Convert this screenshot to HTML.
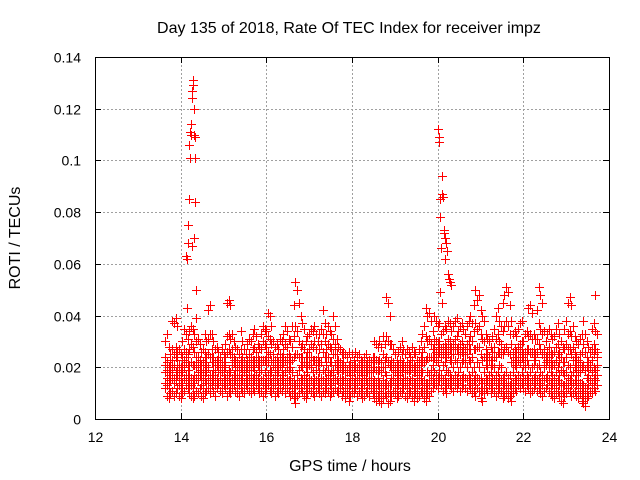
<!DOCTYPE html>
<html><head><meta charset="utf-8"><style>
body{margin:0;background:#fff}
svg{display:block;font-family:"Liberation Sans",sans-serif}
</style></head><body>
<svg id="chart" width="640" height="480" viewBox="0 0 640 480" xmlns="http://www.w3.org/2000/svg">
<rect width="640" height="480" fill="#fff"/>
<text x="349" y="33" font-size="16" text-anchor="middle" fill="#000">Day 135 of 2018, Rate Of TEC Index for receiver impz</text>
<text x="350" y="471" font-size="16" text-anchor="middle" fill="#000">GPS time / hours</text>
<text transform="translate(20,238) rotate(-90)" font-size="16" text-anchor="middle" fill="#000">ROTI / TECUs</text>
<g id="grid"></g>
<g id="marks"></g>
<g id="axes"></g>
</svg>
<script>
const xTicks=[12,14,16,18,20,22,24];
const yTicks=[0,0.02,0.04,0.06,0.08,0.1,0.12,0.14];
const yTickLabels=["0","0.02","0.04","0.06","0.08","0.1","0.12","0.14"];
const tStart=13.64, tStep=0.04;
const rotiLow=[12,9,8,10,11,9,10,12,9,8,10,11,13,12,10,9,8,9,11,10,12,9,8,10,11,
12,10,13,11,9,12,14,11,10,13,12,9,11,10,12,13,11,10,9,12,11,10,13,12,11,
10,12,11,13,12,10,11,9,10,12,13,11,10,12,9,11,10,12,11,13,10,12,11,9,10,
8,6,9,10,12,11,9,8,10,12,11,10,9,11,12,10,9,11,10,12,11,9,10,11,12,
11,10,12,9,11,8,10,7,9,11,10,12,9,11,10,8,9,11,10,9,12,10,8,7,9,
7,6,8,10,9,6,7,9,11,10,8,9,11,10,12,9,8,10,11,9,7,10,8,9,11,
10,8,7,10,9,11,12,14,13,12,15,13,11,12,10,14,13,12,11,13,12,14,11,12,13,
12,11,13,12,10,11,9,12,11,8,7,10,12,11,13,10,12,11,9,10,12,11,8,9,10,
8,9,7,10,12,11,13,12,14,12,11,13,12,10,11,12,13,11,12,10,9,11,12,13,11,
10,9,8,10,11,9,7,6,9,10,12,11,9,10,11,9,8,10,7,6,5,8,9,11,10,
12,11,13];
const rotiLow2=[14,13,12,15,16,14,15,17,13,12,14,16,17,15,14,13,12,14,16,15,17,13,12,15,14,
16,14,17,15,13,16,18,15,14,17,16,13,15,14,16,17,15,14,13,16,15,14,17,16,15,
14,16,15,17,16,14,15,13,14,16,17,15,14,16,13,15,14,16,15,17,14,16,15,13,14,
12,10,13,14,16,15,13,12,14,16,15,14,13,15,16,14,13,15,14,16,15,13,14,15,16,
15,14,16,13,15,12,14,11,13,15,14,16,13,15,14,12,13,15,14,13,16,14,12,11,13,
11,10,12,14,13,10,11,13,15,14,12,13,15,14,16,13,12,14,15,13,11,14,12,13,15,
14,12,11,14,13,15,16,18,17,16,19,17,15,16,14,18,17,16,15,17,16,18,15,16,17,
16,15,17,16,14,15,13,16,15,12,11,14,16,15,17,14,16,15,13,14,16,15,12,13,14,
12,13,11,14,16,15,17,16,18,16,15,17,16,14,15,16,17,15,16,14,13,15,16,17,15,
14,13,12,14,15,13,11,10,13,14,16,15,13,14,15,13,12,14,11,10,9,12,13,15,14,
16,15,17];
const rotiMid=[18,16,15,17,19,16,18,20,17,15,18,20,22,19,17,16,15,17,20,18,21,17,16,19,18,
20,17,22,19,16,21,24,19,18,22,20,17,19,18,21,22,19,17,16,20,19,18,21,20,19,
17,20,19,22,21,18,19,16,18,21,22,19,18,21,17,19,18,21,19,22,18,20,19,16,18,
15,13,17,19,21,20,17,16,18,21,20,18,16,19,21,18,16,19,18,21,19,17,18,19,21,
19,18,20,16,19,15,18,14,16,19,18,21,16,19,18,15,16,19,18,16,20,18,15,14,16,
14,13,15,18,17,13,14,16,19,18,15,16,19,18,20,16,15,18,19,16,14,18,15,16,19,
18,15,14,18,17,19,21,24,23,22,26,24,21,22,19,25,23,22,20,23,22,25,20,22,23,
22,20,23,22,18,20,17,22,20,16,14,18,21,20,23,18,21,20,17,18,21,20,16,17,18,
16,17,14,18,21,20,23,22,24,21,20,23,21,18,20,21,23,20,21,18,17,20,21,23,20,
18,17,16,18,20,17,14,13,17,18,21,20,17,18,20,17,15,18,14,13,12,16,17,20,18,
20,19,21];
const rotiMid2=[21,19,18,20,23,21,24,23,19,18,21,23,24,22,21,22,21,21,24,21,22,19,19,22,21,
25,24,24,22,19,22,22,20,20,21,22,26,27,25,24,23,21,20,19,23,22,20,19,22,22,
21,23,23,24,22,21,23,23,23,24,26,25,23,23,20,21,20,23,21,24,23,24,22,20,23,
24,25,25,24,24,24,22,20,22,24,24,23,23,23,22,22,22,26,24,24,24,22,22,25,25,
22,21,21,19,20,18,19,18,17,19,18,20,18,20,18,17,18,20,18,18,19,19,20,19,19,
19,18,20,20,24,22,21,20,21,19,17,19,21,21,21,18,19,19,19,20,18,19,17,19,21,
22,22,23,24,24,24,24,27,26,25,28,26,25,26,24,28,27,25,25,27,27,27,25,26,26,
25,25,27,27,24,27,27,28,28,25,23,24,24,23,24,21,24,24,24,26,26,25,25,27,28,
26,25,22,22,24,23,26,26,27,23,23,25,27,26,26,24,24,26,29,27,25,24,22,25,24,
22,21,21,23,25,22,19,18,22,24,27,27,25,23,23,21,19,22,20,21,19,20,20,21,23,
25,27,24];
const rotiUpper=[24,22,20,23,27,25,28,26,21,20,24,27,26,25,27,29,28,26,30,24,23,21,22,26,24,
31,33,27,24,22,23,21,20,22,21,24,32,33,31,27,24,23,22,21,27,24,22,21,23,25,
24,27,28,26,24,23,27,30,29,28,32,31,29,25,23,24,22,25,24,27,29,28,25,24,28,
32,36,34,30,28,29,27,24,26,27,29,28,30,27,24,27,29,33,30,27,29,28,27,31,29,
25,23,22,21,22,20,19,21,18,20,19,21,20,21,19,18,20,21,18,19,18,20,24,23,22,
23,22,25,23,32,30,29,23,22,20,19,21,23,25,22,20,22,21,20,23,21,20,19,22,24,
26,28,32,30,31,29,27,31,30,29,30,27,28,29,28,31,30,28,29,31,32,28,29,30,28,
27,29,30,32,30,34,37,35,36,33,31,30,27,25,24,23,26,28,31,33,30,29,34,36,38,
36,33,29,26,27,26,28,29,30,25,26,27,32,33,31,27,25,31,37,35,33,27,24,26,28,
26,25,26,28,29,26,24,22,27,29,33,34,32,28,26,24,23,25,26,29,26,24,22,21,27,
29,34,26];
const rotiHigh=[30,33,28,25,38,37,39,36,27,25,30,35,33,31,34,36,35,33,39,31,29,26,27,33,30,
42,44,33,30,27,28,26,24,27,25,29,45,46,44,33,30,28,27,25,34,30,27,25,29,31,
30,33,35,32,29,28,33,36,35,34,41,40,36,30,28,29,27,31,30,33,36,34,31,30,36,
44,53,50,45,40,37,35,30,32,33,35,34,36,33,30,33,35,42,37,33,36,34,33,40,36,
31,28,27,25,26,25,24,26,22,25,23,26,24,25,23,22,24,25,22,23,22,24,30,29,28,
30,28,32,29,47,45,40,29,27,25,23,26,28,30,27,25,27,26,24,28,26,25,23,27,30,
33,36,43,40,41,38,34,40,38,36,37,33,34,36,35,38,37,34,36,38,39,34,36,37,35,
33,36,38,40,37,44,50,46,48,42,40,38,33,31,30,28,32,35,40,43,38,36,45,48,51,
49,44,38,33,34,32,35,37,38,30,33,34,43,44,41,33,31,42,51,48,45,34,30,33,35,
33,31,32,35,37,33,30,28,35,38,45,47,44,36,32,30,29,31,33,38,33,30,28,26,35,
37,48,33];
const spikeTimes=[14.12,14.14,14.16,14.18,14.2,14.22,14.24,14.26,14.27,14.28,14.29,14.3,14.32,14.33,14.34,14.2,14.22,14.24,14.26,14.3,14.34,14.36,14.14,
20.0,20.02,20.03,20.05,20.06,20.08,20.1,20.1,20.12,20.14,20.15,20.17,20.18,20.2,20.22,20.24,20.26,20.28,20.3,20.06,20.1];
const spikeValues=[0.063,0.062,0.068,0.075,0.085,0.111,0.114,0.124,0.127,0.129,0.131,0.120,0.110,0.109,0.101,0.106,0.101,0.110,0.067,0.070,0.084,0.050,0.043,
0.112,0.109,0.107,0.085,0.078,0.066,0.094,0.087,0.086,0.073,0.072,0.070,0.062,0.068,0.065,0.056,0.054,0.053,0.052,0.049,0.045];

const X0=95,X1=609,Y0=419,Y1=57;
const sx=v=>X0+(v-12)/(24-12)*(X1-X0);
const sy=v=>Y0-v/0.14*(Y0-Y1);
const NS="http://www.w3.org/2000/svg";
function mk(tag,attrs,parent){const e=document.createElementNS(NS,tag);for(const k in attrs)e.setAttribute(k,attrs[k]);parent.appendChild(e);return e;}
const grid=document.getElementById('grid'),axes=document.getElementById('axes'),marks=document.getElementById('marks');
xTicks.forEach((t,i)=>{
  const x=Math.round(sx(t))+0.5;
  if(i>0&&i<xTicks.length-1){const l=mk('line',{x1:x,y1:Y1,x2:x,y2:Y0,stroke:'#a0a0a0','stroke-dasharray':'2,2','stroke-width':1},grid);
  
  }
  mk('line',{x1:x,y1:Y0,x2:x,y2:Y0-6,stroke:'#000'},axes);
  mk('line',{x1:x,y1:Y1,x2:x,y2:Y1+6,stroke:'#000'},axes);
  const tx=mk('text',{x:x,y:Y0+23,'font-size':14,'text-anchor':'middle',fill:'#000'},axes);
  tx.textContent=String(t);
  
  
});
yTicks.forEach((t,i)=>{
  const y=Math.round(sy(t))+0.5;
  if(i>0&&i<yTicks.length-1){const l=mk('line',{x1:X0,y1:y,x2:X1,y2:y,stroke:'#a0a0a0','stroke-dasharray':'2,2','stroke-width':1},grid);
  
  }
  mk('line',{x1:X0,y1:y,x2:X0+6,y2:y,stroke:'#000'},axes);
  mk('line',{x1:X1,y1:y,x2:X1-6,y2:y,stroke:'#000'},axes);
  const tx=mk('text',{x:X0-14,y:y+5,'font-size':14,'text-anchor':'end',fill:'#000'},axes);
  tx.textContent=yTickLabels[i];
  
  
});
const frame=mk('rect',{x:X0+0.5,y:Y1+0.5,width:X1-X0,height:Y0-Y1,fill:'none',stroke:'#000'},axes);


let d='';
function plus(t,v){const x=Math.round(sx(t)),y=Math.round(sy(v));d+=`M${x-4} ${y}h9v1h-9zM${x} ${y-4}h1v9h-1z`;}
[rotiLow,rotiLow2,rotiMid,rotiMid2,rotiUpper,rotiHigh].forEach(arr=>arr.forEach((v,i)=>plus(tStart+i*tStep,v/1000)));
spikeTimes.forEach((t,i)=>plus(t,spikeValues[i]));
const p=mk('path',{d:d,fill:'#ff0000','fill-rule':'nonzero',stroke:'none'},marks);


</script>
</body></html>
